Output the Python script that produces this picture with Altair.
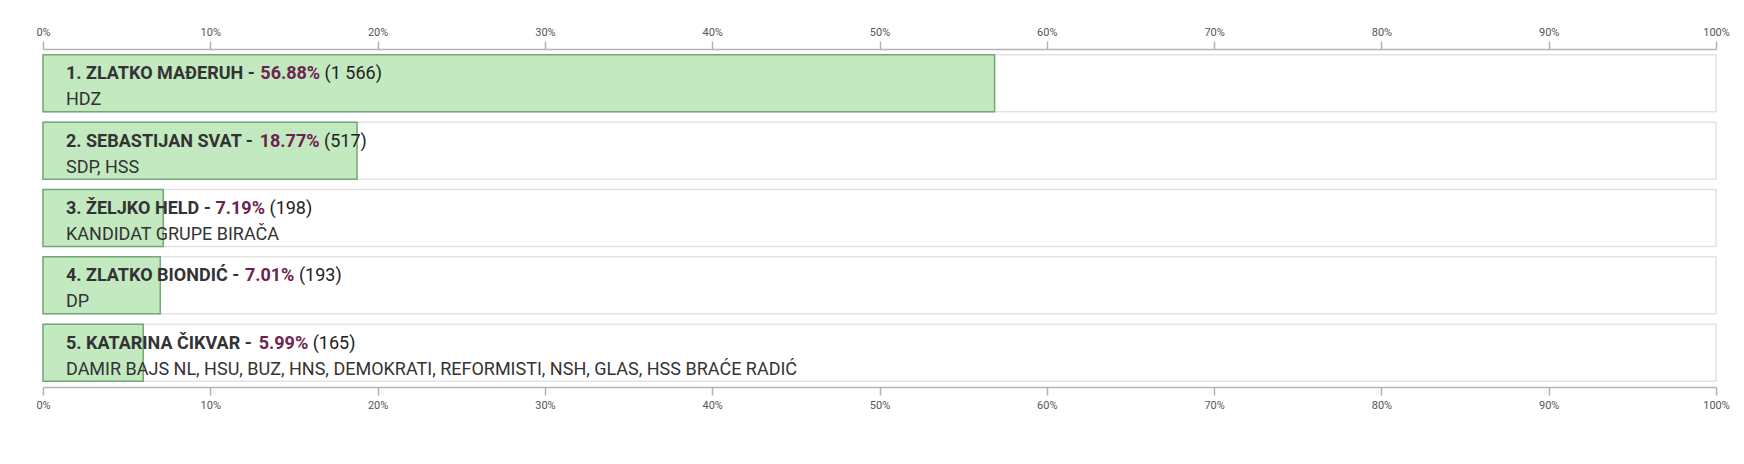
import glob
import os
import struct

import altair as alt
import pandas as pd

# ---------------- data ----------------
ranks = [1, 2, 3, 4, 5]
names = ["ZLATKO MAĐERUH", "SEBASTIJAN SVAT", "ŽELJKO HELD", "ZLATKO BIONDIĆ", "KATARINA ČIKVAR"]
percents = [56.88, 18.77, 7.19, 7.01, 5.99]
votes = [1566, 517, 198, 193, 165]
parties = [
    "HDZ",
    "SDP, HSS",
    "KANDIDAT GRUPE BIRAČA",
    "DP",
    "DAMIR BAJS NL, HSU, BUZ, HNS, DEMOKRATI, REFORMISTI, NSH, GLAS, HSS BRAĆE RADIĆ",
]
tick_values = [0, 10, 20, 30, 40, 50, 60, 70, 80, 90, 100]

# ---------------- layout / style ----------------
PLOT_W = 1673
PLOT_H = 338
FONT = "Roboto"
FONT_SIZE = 18
TEXT_PAD = 23  # px from left edge of the row to the text
KERN_FIX = 1.0


# ---------------- text measurement (font metrics) ----------------
def _load_font(path):
    data = open(path, "rb").read()
    off0 = struct.unpack(">I", data[12:16])[0] if data[:4] == b"ttcf" else 0
    num = struct.unpack(">H", data[off0 + 4:off0 + 6])[0]
    tables = {}
    for i in range(num):
        rec = off0 + 12 + 16 * i
        tag = data[rec:rec + 4].decode("latin1")
        off = struct.unpack(">I", data[rec + 8:rec + 12])[0]
        tables[tag] = off
    upem = struct.unpack(">H", data[tables["head"] + 18:tables["head"] + 20])[0]
    nhm = struct.unpack(">H", data[tables["hhea"] + 34:tables["hhea"] + 36])[0]
    hm = tables["hmtx"]
    adv = [struct.unpack(">H", data[hm + 4 * i:hm + 4 * i + 2])[0] for i in range(nhm)]
    cm = tables["cmap"]
    n = struct.unpack(">H", data[cm + 2:cm + 4])[0]
    sub = None
    for i in range(n):
        pid, eid, off = struct.unpack(">HHI", data[cm + 4 + 8 * i:cm + 12 + 8 * i])
        fmt = struct.unpack(">H", data[cm + off:cm + off + 2])[0]
        if (pid == 3 and eid in (1, 10)) or pid == 0:
            if fmt == 12 or (fmt == 4 and (sub is None or sub[0] != 12)):
                sub = (fmt, cm + off)
    fmt, o = sub
    if fmt == 4:
        segx2 = struct.unpack(">H", data[o + 6:o + 8])[0]
        seg = segx2 // 2
        ends = struct.unpack(">%dH" % seg, data[o + 14:o + 14 + segx2])
        starts = struct.unpack(">%dH" % seg, data[o + 16 + segx2:o + 16 + 2 * segx2])
        deltas = struct.unpack(">%dh" % seg, data[o + 16 + 2 * segx2:o + 16 + 3 * segx2])
        rpos = o + 16 + 3 * segx2
        roffs = struct.unpack(">%dH" % seg, data[rpos:rpos + segx2])

        def gid(c):
            for i in range(seg):
                if ends[i] >= c:
                    if starts[i] > c:
                        return 0
                    if roffs[i] == 0:
                        return (c + deltas[i]) & 0xFFFF
                    addr = rpos + 2 * i + roffs[i] + 2 * (c - starts[i])
                    g = struct.unpack(">H", data[addr:addr + 2])[0]
                    return (g + deltas[i]) & 0xFFFF if g else 0
            return 0
    else:
        ng = struct.unpack(">I", data[o + 12:o + 16])[0]
        groups = [struct.unpack(">III", data[o + 16 + 12 * i:o + 28 + 12 * i]) for i in range(ng)]

        def gid(c):
            for s, e, g in groups:
                if s <= c <= e:
                    return g + (c - s)
            return 0

    def width(s, size):
        tot = 0
        for ch in s:
            g = gid(ord(ch))
            tot += adv[g] if g < nhm else adv[-1]
        return tot / upem * size

    return width


def _fallback(bold):
    table = {" ": 507, ".": 553 if bold else 527, ",": 450 if bold else 393, "-": 560 if bold else 553,
             "%": 1500 if bold else 1465, "(": 720 if bold else 700, ")": 720 if bold else 712}

    def width(s, size):
        tot = 0
        for ch in s:
            if ch in table:
                tot += table[ch]
            elif ch.isdigit():
                tot += 1150
            elif ch in "IJ":
                tot += 600 if ch == "I" else 1130
            elif ch in "MW":
                tot += 1780
            else:
                tot += 1330 if bold else 1290
        return tot / 2048 * size

    return width


def _find(names_wanted):
    roots = ["/usr/share/fonts", "/usr/local/share/fonts",
             os.path.expanduser("~/.fonts"), os.path.expanduser("~/.local/share/fonts")]
    files = []
    for r in roots:
        files += glob.glob(os.path.join(r, "**", "*.ttf"), recursive=True)
    for w in names_wanted:
        for f in files:
            if os.path.basename(f).lower() == w.lower():
                return f
    return None


def _measurer(bold):
    try:
        p = _find(["Roboto-Bold.ttf"] if bold else ["Roboto-Regular.ttf"])
        if p:
            return _load_font(p)
    except Exception:
        pass
    return _fallback(bold)


w_bold = _measurer(True)
w_reg = _measurer(False)


def px_to_data(px):
    return px / PLOT_W * 100.0


# ---------------- table ----------------
rows = []
for r, nm, p, v, pa in zip(ranks, names, percents, votes, parties):
    head = f"{r}. {nm} - "
    pct_s = f"{p:.2f}%"
    cnt_s = "(" + f"{v:,}".replace(",", " ") + ")"
    x_pct_px = TEXT_PAD + w_bold(head, FONT_SIZE) * KERN_FIX
    x_cnt_px = x_pct_px + w_bold(pct_s, FONT_SIZE) * KERN_FIX + w_reg(" ", FONT_SIZE)
    rows.append(dict(rank=r, pct=p, zero=0, full=100, head=head, pct_s=pct_s, cnt_s=cnt_s,
                     party=pa, x_name=px_to_data(TEXT_PAD), x_pct=px_to_data(x_pct_px),
                     x_cnt=px_to_data(x_cnt_px)))
df = pd.DataFrame(rows)

xscale = alt.Scale(domain=[0, 100], nice=False, zero=True)
yscale = alt.Scale(paddingInner=0.153, paddingOuter=0.087)
Y = alt.Y("rank:O", scale=yscale, axis=None, sort=ranks)

axis_common = dict(values=tick_values, labelExpr="datum.value + '%'", grid=False,
                   domainColor="#b3b3b3", domainWidth=1.5, tickColor="#b3b3b3", tickWidth=1.5,
                   tickSize=8, labelColor="#555555", labelFontSize=11, labelFont=FONT,
                   labelPadding=4, labelFlush=False, labelOverlap=False, title=None)

base = alt.Chart(df)

bg = base.mark_bar(fill="#ffffff", stroke="#e3e3e3", strokeWidth=1.5).encode(
    x=alt.X("zero:Q", scale=xscale, axis=alt.Axis(orient="top", **axis_common)),
    x2="full:Q",
    y=Y,
)

bars = base.mark_bar(fill="#c2e9c0", stroke="#74a874", strokeWidth=1.5).encode(
    x=alt.X("zero:Q", scale=xscale, axis=alt.Axis(orient="bottom", **axis_common)),
    x2="pct:Q",
    y=Y,
)

t_name = base.mark_text(align="left", baseline="alphabetic", dy=-4, font=FONT, fontSize=FONT_SIZE,
                        fontWeight="bold", color="#333333").encode(
    x=alt.X("x_name:Q", scale=xscale, axis=None), y=Y, text="head:N")

t_pct = base.mark_text(align="left", baseline="alphabetic", dy=-4, font=FONT, fontSize=FONT_SIZE,
                       fontWeight="bold", color="#6d2350").encode(
    x=alt.X("x_pct:Q", scale=xscale, axis=None), y=Y, text="pct_s:N")

t_cnt = base.mark_text(align="left", baseline="alphabetic", dy=-4, font=FONT, fontSize=FONT_SIZE,
                       fontWeight="normal", color="#222222").encode(
    x=alt.X("x_cnt:Q", scale=xscale, axis=None), y=Y, text="cnt_s:N")

t_party = base.mark_text(align="left", baseline="alphabetic", dy=22, font=FONT, fontSize=FONT_SIZE,
                         fontWeight="normal", color="#333333").encode(
    x=alt.X("x_name:Q", scale=xscale, axis=None), y=Y, text="party:N")

chart = (
    alt.layer(bg, bars, t_name, t_pct, t_cnt, t_party)
    .resolve_axis(x="independent")
    .properties(
        width=PLOT_W,
        height=PLOT_H,
        padding={"left": 35, "top": 41, "right": 20, "bottom": 60},
        autosize=alt.AutoSizeParams(type="none"),
        background="#ffffff",
    )
    .configure_view(stroke=None)
)

chart.save("out.html", embed_options={"renderer": "svg", "actions": False})
